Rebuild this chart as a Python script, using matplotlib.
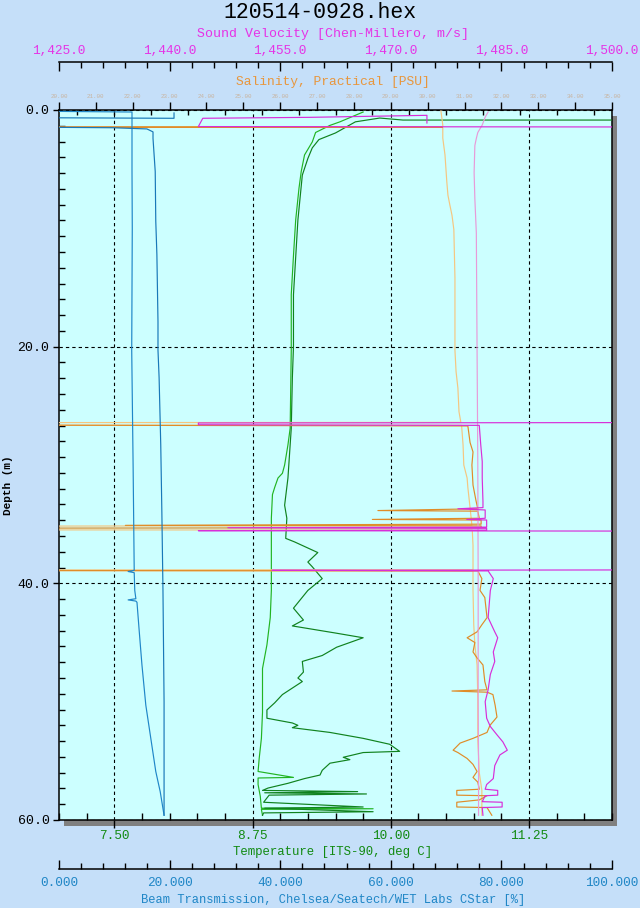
import numpy as np
import matplotlib
matplotlib.use('Agg')
import matplotlib.pyplot as plt
from matplotlib.ticker import MultipleLocator, FixedLocator, FuncFormatter
from matplotlib.patches import Rectangle

# ---------------- data (depth in m, values in axis units) ----------------
temp_dn_depth = [0.17, 1.0, 1.3, 1.9, 2.7, 3.8, 5.2, 6.6, 9.3, 12.3, 15.6, 20.3, 26.9, 28.3, 30.0, 30.7,
                 31.1, 31.9, 32.5, 34.5, 40.6, 42.9, 45.2, 47.2, 50.9, 53.1, 54.8, 55.9, 56.4, 56.45,
                 57.0, 58.0, 59.0, 59.05, 59.1, 59.6]
temp_dn = [9.75, 9.54, 9.45, 9.32, 9.29, 9.22, 9.19, 9.17, 9.14, 9.12, 9.10, 9.10, 9.09, 9.07, 9.04, 9.02,
           8.98, 8.95, 8.93, 8.92, 8.92, 8.91, 8.88, 8.84, 8.84, 8.83, 8.81, 8.80, 9.12, 8.80,
           8.80, 8.82, 8.83, 9.84, 8.83, 8.84]

temp_up_depth = [0.85, 0.85, 0.68, 1.0, 1.94, 2.5, 3.2, 4.1, 5.5, 9.3, 15.6, 20.0, 22.6, 26.9, 31.1, 33.4,
                 34.5, 36.2, 36.5, 37.4, 38.2, 38.6, 39.6, 40.6, 42.1, 43.1, 43.6, 44.2, 44.6, 45.4,
                 46.1, 46.6, 47.5, 48.0, 48.3, 49.4, 50.1, 50.7, 51.4, 51.8, 52.0, 52.2, 52.6, 53.1,
                 53.6, 54.2, 54.3, 54.7, 54.9, 55.2, 55.8, 56.2, 56.5, 56.9, 57.3, 57.5, 57.6, 57.7,
                 57.8, 57.9, 58.5, 58.9, 59.0, 59.3, 59.4, 59.6]
temp_up = [12.5, 10.11, 9.90, 9.68, 9.50, 9.35, 9.29, 9.25, 9.20, 9.16, 9.12, 9.12, 9.11, 9.10, 9.07, 9.04,
           9.06, 9.05, 9.13, 9.34, 9.25, 9.29, 9.38, 9.25, 9.12, 9.21, 9.11, 9.50, 9.75, 9.51,
           9.38, 9.20, 9.21, 9.16, 9.20, 9.02, 8.95, 8.88, 8.88, 9.11, 9.16, 9.11, 9.45, 9.75,
           9.99, 10.08, 9.75, 9.57, 9.63, 9.45, 9.38, 9.36, 9.22, 9.07, 8.89, 8.84, 9.70, 8.86,
           9.78, 8.90, 8.85, 9.75, 8.86, 9.84, 8.85, 8.84]

sal_dn_depth = [0.08, 1.27, 1.38, 2.37, 3.8, 6.1, 7.2, 8.0, 8.9, 10.1, 14.2, 20.3, 22.1, 23.5, 25.5, 26.4,
                26.45, 26.6, 26.65, 28.3, 30.0, 31.1, 31.9, 33.6, 35.1, 35.3, 35.45, 35.5, 36.8, 38.85,
                38.9, 38.95, 40.6, 43.5, 45.2, 46.9, 49.7, 53.2, 56.0, 57.5, 59.6]
sal_dn = [30.36, 30.41, 30.41, 30.41, 30.47, 30.52, 30.55, 30.60, 30.66, 30.71, 30.74, 30.74, 30.77, 30.82,
          30.85, 30.90, -5, -5, 30.92, 30.96, 30.98, 31.07, 31.09, 31.15, 31.20, -5, -5, 31.21, 31.23,
          31.23, -5, 31.23, 31.23, 31.25, 31.28, 31.34, 31.36, 31.36, 31.40, 31.47, 31.47]

sal_up_depth = [1.40, 1.45, 1.50, 26.50, 26.70, 28.1, 28.9, 30.0, 31.7, 33.0, 33.7, 33.85, 33.9, 34.5,
                34.6, 34.65, 35.0, 35.1, 35.15, 35.3, 35.4, 38.85, 38.95, 39.6, 40.6, 41.2, 42.9, 43.5,
                44.1, 44.6, 45.0, 45.8, 46.3, 46.9, 48.3, 49.0, 49.1, 49.2, 49.4, 50.3, 51.3, 52.0,
                52.6, 53.1, 53.5, 54.1, 54.3, 54.8, 55.3, 55.9, 56.4, 56.8, 57.4, 57.5, 57.9, 57.95,
                58.3, 58.5, 58.9, 58.95, 59.6]
sal_up = [-5, 30.40, -5, -5, 31.09, 31.15, 31.23, 31.20, 31.23, 31.31, 31.36, 28.65, 31.36, 31.40,
          28.50, 31.45, 31.45, 21.8, 31.45, 31.45, -5, -5, 31.36, 31.47, 31.42, 31.55, 31.61, 31.47,
          31.34, 31.07, 31.28, 31.23, 31.34, 31.50, 31.55, 31.61, 30.66, 31.61, 31.77, 31.83, 31.88, 31.69,
          31.61, 31.23, 30.88, 30.69, 30.82, 31.07, 31.23, 31.34, 31.23, 31.36, 31.40, 30.79, 30.79, 31.61,
          31.40, 30.79, 30.79, 31.61, 31.74]

sv_dn_depth = [0.17, 0.6, 1.27, 1.9, 2.4, 3.0, 5.3, 7.5, 10.4, 20.3, 30.0, 40.0, 50.0, 55.0, 59.6]
sv_dn = [1483.2, 1482.8, 1482.4, 1481.8, 1481.6, 1481.4, 1481.3, 1481.4, 1481.6, 1481.7, 1481.8,
         1481.85, 1481.85, 1481.9, 1481.9]

sv_up_depth = [1.10, 0.45, 0.62, 0.70, 1.40, 1.45, 26.40, 26.45, 26.60, 26.65, 28.3, 29.7, 31.1, 33.1,
               33.6, 33.7, 33.8, 34.5, 34.6, 34.65, 35.25, 35.3, 35.35, 35.5, 35.55, 35.6, 38.85, 38.9,
               38.95, 39.6, 40.6, 42.9, 44.1, 44.6, 45.8, 46.6, 47.7, 49.0, 50.0, 51.4, 52.1, 52.8,
               53.4, 54.1, 54.5, 55.4, 56.5, 57.0, 57.4, 57.5, 57.9, 57.95, 58.45, 58.5, 58.9, 58.95, 59.6]
sv_up = [1474.9, 1474.9, 1459.0, 1444.5, 1443.9, 1530, 1530, 1443.9, 1443.9, 1482.0, 1482.2, 1482.4,
         1482.4, 1482.5, 1482.5, 1479.1, 1482.8, 1482.8, 1480.3, 1483.0, 1483.0, 1447.9, 1483.0, 1483.0,
         1443.9, 1530, 1530, 1453.9, 1483.2, 1483.9, 1483.5, 1483.2, 1484.1, 1484.5, 1483.9, 1484.1,
         1483.5, 1483.2, 1482.8, 1483.0, 1483.5, 1484.4, 1485.2, 1485.8, 1484.8, 1484.1, 1483.9, 1483.0,
         1482.8, 1484.5, 1484.5, 1482.8, 1482.4, 1485.1, 1485.1, 1482.4, 1482.5]

beam_a_depth = [0.10, 0.17, 5.0, 10.0, 20.3, 30.0, 38.9, 39.0, 39.1, 40.6, 41.3, 41.4, 41.5, 41.6,
                44.0, 46.9, 50.3, 53.1, 55.9, 57.6, 59.6]
beam_a = [-5, 13.2, 13.2, 13.25, 13.15, 13.4, 13.6, 12.5, 13.6, 13.7, 13.9, 12.5, 13.9, 14.1,
          14.5, 15.0, 15.7, 16.6, 17.5, 18.3, 19.0]

beam_b_depth = [0.25, 0.70, 0.65, 1.45, 1.50, 1.60, 1.85, 2.4, 5.2, 9.4, 12.2, 17.9, 20.3, 22.6,
                28.3, 34.0, 40.6, 50.0, 59.6]
beam_b = [20.8, 20.8, -5, -5, 9.8, 15.9, 17.0, 17.0, 17.4, 17.5, 17.7, 17.9, 17.9, 18.1,
          18.4, 18.6, 18.8, 19.0, 19.0]

depth_ticks = [0, 20, 40, 60]
temp_ticks = [7.50, 8.75, 10.00, 11.25]
sal_ticks = list(range(20, 36))
sv_ticks = [1425, 1440, 1455, 1470, 1485, 1500]
beam_ticks = [0, 20, 40, 60, 80, 100]

title = '120514-0928.hex'
sv_label = 'Sound Velocity [Chen-Millero, m/s]'
sal_label = 'Salinity, Practical [PSU]'
temp_label = 'Temperature [ITS-90, deg C]'
beam_label = 'Beam Transmission, Chelsea/Seatech/WET Labs CStar [%]'
depth_label = 'Depth (m)'

# ---------------- styling ----------------
plt.rcParams['font.family'] = ['Liberation Mono', 'DejaVu Sans Mono']
plt.rcParams['lines.scale_dashes'] = False

W, H = 640, 908
BG = '#c5dff9'
PLOT_BG = '#ccffff'
C_SV = '#e632e6'
C_SAL = '#e8963c'
C_SAL_TICK = '#c8b4a0'
C_TEMP = '#118a11'
C_BEAM = '#1f86c6'

fig = plt.figure(figsize=(W / 100, H / 100), dpi=100, facecolor=BG)

def rect_px(x0, y0, x1, y1):
    return [x0 / W, 1 - y1 / H, (x1 - x0) / W, (y1 - y0) / H]

L, T, R, B = 59, 110, 612, 820
rect = rect_px(L, T, R, B)
PX = 0.72  # points per pixel

# drop shadow
fig.add_artist(Rectangle(((L + 5) / W, 1 - (B + 6) / H), (R - L) / W, (B - T) / H,
                         transform=fig.transFigure, facecolor='#808080', edgecolor='none', zorder=-5))

ax_t = fig.add_axes(rect, facecolor=PLOT_BG, zorder=0)
ax_s = fig.add_axes(rect, sharey=ax_t, zorder=1)
ax_sv = fig.add_axes(rect, sharey=ax_t, zorder=2)
ax_b = fig.add_axes(rect, sharey=ax_t, zorder=3)
for a in (ax_s, ax_sv, ax_b):
    a.patch.set_visible(False)
    for sp in a.spines.values():
        sp.set_visible(False)
    a.tick_params(axis='y', which='both', left=False, right=False, labelleft=False, labelright=False)

ax_t.set_ylim(60, 0)
ax_t.set_xlim(7.0, 12.0)
ax_s.set_xlim(20, 35)
ax_sv.set_xlim(1425, 1500)
ax_b.set_xlim(0, 100)

lw = 0.85
# salinity
ax_s.plot(sal_dn, sal_dn_depth, color='#f5c680', lw=lw)
ax_s.plot(sal_up, sal_up_depth, color='#e08c28', lw=lw)
# sound velocity
ax_sv.plot(sv_dn, sv_dn_depth, color='#e89ad8', lw=lw)
ax_sv.plot(sv_up, sv_up_depth, color='#d82ed8', lw=lw)
# temperature
ax_t.plot(temp_dn, temp_dn_depth, color='#22b422', lw=lw, zorder=3)
ax_t.plot(temp_up, temp_up_depth, color='#10821e', lw=lw, zorder=3)
# beam
ax_b.plot(beam_a, beam_a_depth, color='#1f86c8', lw=lw)
ax_b.plot(beam_b, beam_b_depth, color='#1878b8', lw=lw)

for sp in ax_t.spines.values():
    sp.set_linewidth(1.1)
    sp.set_color('black')

# grid
ax_t.xaxis.set_major_locator(FixedLocator(temp_ticks))
ax_t.xaxis.set_minor_locator(MultipleLocator(0.25))
ax_t.yaxis.set_major_locator(FixedLocator(depth_ticks))
ax_t.yaxis.set_minor_locator(MultipleLocator(4 / 3))
ax_t.grid(True, which='major', color='black', lw=0.8, ls=(0, (2.4, 2.2)))
ax_t.set_axisbelow(True)

ax_t.xaxis.set_major_formatter(FuncFormatter(lambda v, p: f'{v:.2f}'))
ax_t.yaxis.set_major_formatter(FuncFormatter(lambda v, p: f'{v:.1f}'))
ax_t.tick_params(axis='x', which='major', direction='out', length=8 * PX, width=1.0,
                 labelsize=9.2, labelcolor=C_TEMP, pad=1.5, top=False)
ax_t.tick_params(axis='x', which='minor', direction='in', length=7 * PX, width=1.0, top=False)
ax_t.tick_params(axis='y', which='major', direction='out', length=6 * PX, width=1.0,
                 labelsize=9.5, pad=2.5, right=False)
ax_t.tick_params(axis='y', which='minor', direction='in', length=6 * PX, width=1.0, right=False)

# salinity ticks (top of plot)
ax_s.xaxis.set_ticks_position('top')
ax_s.xaxis.set_major_locator(FixedLocator(sal_ticks))
ax_s.xaxis.set_minor_locator(MultipleLocator(0.5))
ax_s.xaxis.set_major_formatter(FuncFormatter(lambda v, p: f'{v:.2f}'))
ax_s.tick_params(axis='x', which='major', direction='out', length=8 * PX, width=1.0,
                 labelsize=4.2, labelcolor=C_SAL_TICK, pad=2.5, bottom=False)
ax_s.tick_params(axis='x', which='minor', direction='in', length=5 * PX, width=1.0, bottom=False)

# sound velocity axis (detached, top)
ax_sv.spines['top'].set_visible(True)
ax_sv.spines['top'].set_position(('outward', (T - 62) * PX))
ax_sv.spines['top'].set_linewidth(1.1)
ax_sv.xaxis.set_ticks_position('top')
ax_sv.xaxis.set_major_locator(FixedLocator(sv_ticks))
ax_sv.xaxis.set_minor_locator(MultipleLocator(3))
ax_sv.xaxis.set_major_formatter(FuncFormatter(lambda v, p: f'{v:,.1f}'))
ax_sv.tick_params(axis='x', which='major', direction='in', length=9 * PX, width=1.0,
                  labelsize=9.2, labelcolor=C_SV, pad=3.5, bottom=False)
ax_sv.tick_params(axis='x', which='minor', direction='in', length=6 * PX, width=1.0, bottom=False)

# beam axis (detached, bottom)
ax_b.spines['bottom'].set_visible(True)
ax_b.spines['bottom'].set_position(('outward', (869 - B) * PX))
ax_b.spines['bottom'].set_linewidth(1.1)
ax_b.xaxis.set_ticks_position('bottom')
ax_b.xaxis.set_major_locator(FixedLocator(beam_ticks))
ax_b.xaxis.set_minor_locator(MultipleLocator(4))
ax_b.xaxis.set_major_formatter(FuncFormatter(lambda v, p: f'{v:.3f}'))
ax_b.tick_params(axis='x', which='major', direction='in', length=9 * PX, width=1.0,
                 labelsize=9.2, labelcolor=C_BEAM, pad=6.0, top=False)
ax_b.tick_params(axis='x', which='minor', direction='in', length=6 * PX, width=1.0, top=False)

# texts
cx = 333 / W
fig.text(0.5, 1 - 12 / H, title, ha='center', va='center', fontsize=15.5)
fig.text(cx, 1 - 34 / H, sv_label, ha='center', va='center', fontsize=9.5, color=C_SV)
fig.text(cx, 1 - 82 / H, sal_label, ha='center', va='center', fontsize=9.4, color=C_SAL)
fig.text(cx, 1 - 852 / H, temp_label, ha='center', va='center', fontsize=8.9, color=C_TEMP)
fig.text(cx, 1 - 900 / H, beam_label, ha='center', va='center', fontsize=8.7, color=C_BEAM)
fig.text(8 / W, 1 - 485 / H, depth_label, ha='center', va='center', fontsize=8, rotation=90,
         fontweight='bold')

fig.savefig('out.png', dpi=100, facecolor=BG)
